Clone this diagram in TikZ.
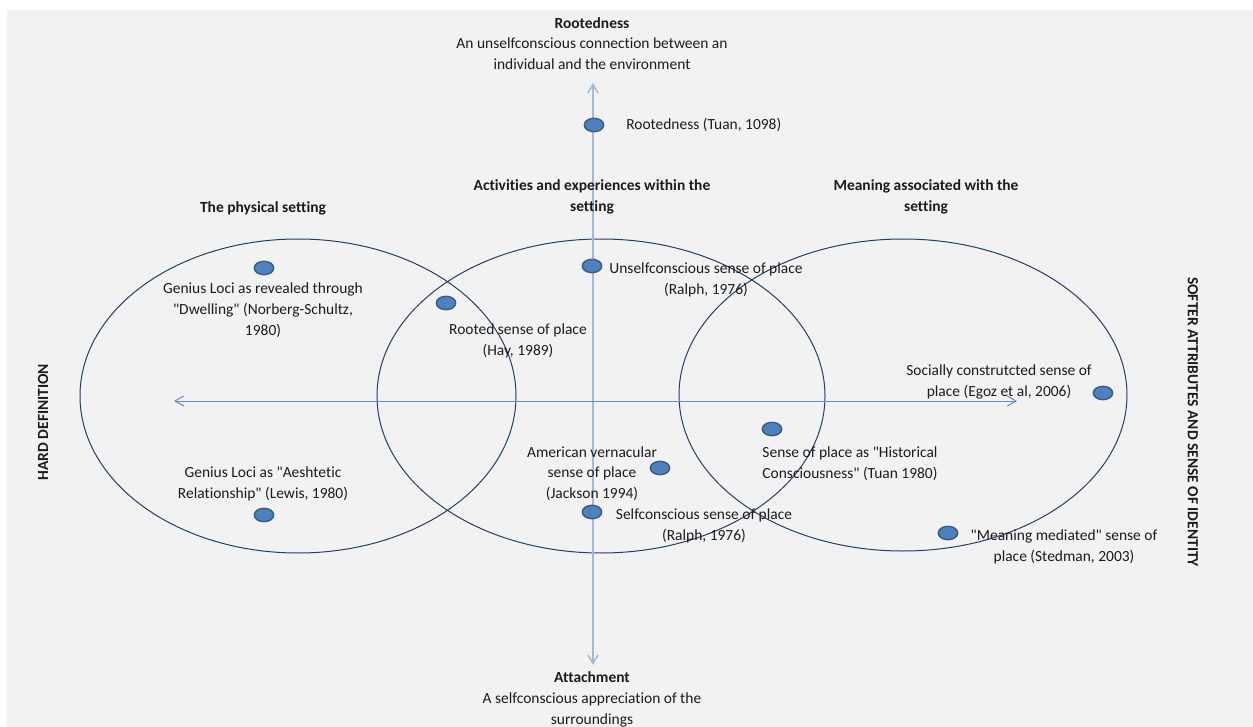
\documentclass[tikz,border=0pt]{standalone}
\usepackage{fontspec}
\setmainfont{Carlito}[Ligatures=NoCommon]
\usetikzlibrary{arrows.meta,shapes.geometric}

\definecolor{paper}{RGB}{242,242,242}
\definecolor{ink}{RGB}{28,28,28}
\definecolor{ringcol}{RGB}{36,63,100}
\definecolor{vcol}{RGB}{160,186,220}
\definecolor{hcol}{RGB}{100,140,200}
\definecolor{dotfill}{RGB}{79,129,189}
\definecolor{dotline}{RGB}{56,93,138}

\newcommand{\qd}{\textquotedbl}

\tikzset{
  lbl/.style={inner sep=0.75pt, align=center, text=ink, font=\fontsize{11.6}{15.6}\selectfont},
  headlbl/.style={lbl, font=\fontsize{11.6}{15.6}\selectfont\bfseries},
  dot/.style={ellipse, draw=dotline, fill=dotfill, line width=1.1pt, minimum width=14.5pt, minimum height=10pt, inner sep=0pt},
  ring/.style={draw=ringcol, line width=0.75pt},
  >={Straight Barb[length=6.5pt,width=7.5pt]},
}

\begin{document}
\begin{tikzpicture}[x=0.75pt,y=0.75pt,yscale=-1,xscale=1]

\useasboundingbox (0,0) rectangle (1253,727);
\fill [paper] (7,10) rectangle (1253,727);

% the three settings
\draw [ring] (298,396) ellipse [x radius=218, y radius=157];
\draw [ring] (601,396) ellipse [x radius=224, y radius=157];
\draw [ring] (903,395) ellipse [x radius=224, y radius=156];

% axes
\coordinate (vTop) at (593,83);
\coordinate (vBot) at (593,665);
\coordinate (hLeft) at (174,401);
\coordinate (hRight) at (1017,401);
\draw [vcol, line width=1.1pt, <->] (vBot) -- (vTop);
\draw [hcol, line width=0.75pt, <->] (hLeft) -- (hRight);

% points
\node [dot] (dRoot) at (594,125) {};
\node [dot] (dUnself) at (592,266) {};
\node [dot] (dRooted) at (446,303) {};
\node [dot] (dDwell) at (264,268) {};
\node [dot] (dAesth) at (264,515) {};
\node [dot] (dAmer) at (660,468) {};
\node [dot] (dSelf) at (592,512) {};
\node [dot] (dHist) at (772,429) {};
\node [dot] (dSocial) at (1103,393) {};
\node [dot] (dMediat) at (948,533) {};

% axis ends
\draw (592,43.5) node (rootTitle) [lbl] {\textbf{Rootedness}\\An unselfconscious connection between an\\individual and the environment};
\draw (592,699.5) node (attTitle) [lbl] {\textbf{Attachment}\\A selfconscious appreciation of the\\surroundings};
\draw (43,422) node (hardLbl) [headlbl, rotate=90] {HARD DEFINITION};
\draw (1193,422) node (softLbl) [headlbl, rotate=-90] {SOFTER ATTRIBUTES AND SENSE OF IDENTITY};

% headings
\draw (263,208) node (physHead) [headlbl] {The physical setting};
\draw (592,197) node (actHead) [headlbl] {Activities and experiences within the\\setting};
\draw (926,197) node (meanHead) [headlbl] {Meaning associated with the\\setting};

% point labels
\draw (625,125) node (tRoot) [lbl, anchor=west] {Rootedness (Tuan, 1098)};
\draw (706,279.5) node (tUnself) [lbl] {Unselfconscious sense of place\\(Ralph, 1976)};
\draw (518,340.5) node (tRooted) [lbl] {Rooted sense of place\\(Hay, 1989)};
\draw (263,310) node (tDwell) [lbl] {Genius Loci as revealed through\\\qd Dwelling\qd{} (Norberg-Schultz,\\1980)};
\draw (263,484) node (tAesth) [lbl] {Genius Loci as \qd Aeshtetic\\Relationship\qd{} (Lewis, 1980)};
\draw (592,473.5) node (tAmer) [lbl] {American vernacular\\sense of place\\(Jackson 1994)};
\draw (704,526) node (tSelf) [lbl] {Selfconscious sense of place\\(Ralph, 1976)};
\draw (850,463.5) node (tHist) [lbl] {Sense of place as \qd Historical\\Consciousness\qd{} (Tuan 1980)};
\draw (999,382) node (tSocial) [lbl] {Socially construtcted sense of\\place (Egoz et al, 2006)};
\draw (1064,547) node (tMediat) [lbl] {\qd Meaning mediated\qd{} sense of\\place (Stedman, 2003)};

\end{tikzpicture}
\end{document}
